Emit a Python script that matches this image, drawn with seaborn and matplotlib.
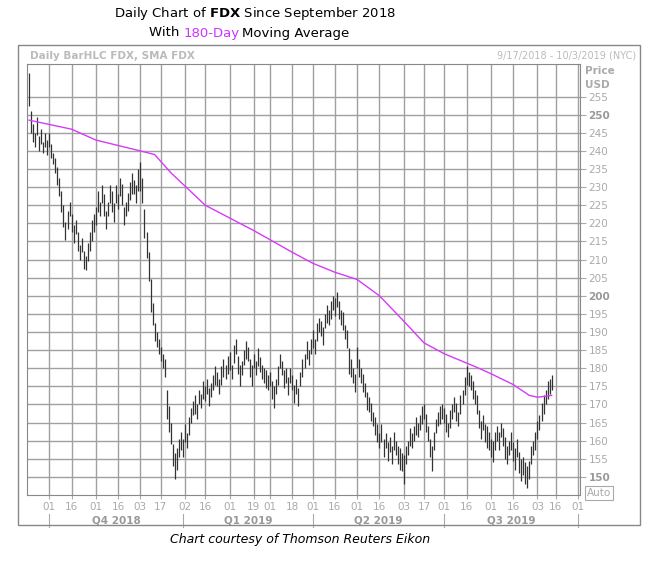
import numpy as np
import pandas as pd
import matplotlib
matplotlib.use("Agg")
import matplotlib.pyplot as plt
import seaborn as sns

closes = [257, 248, 245, 243, 247, 242, 244, 241, 243, 241,
          243, 240, 238, 236, 233, 230, 226, 222, 218, 221, 224, 220, 217, 219, 215, 212, 214, 210, 209, 212, 215, 218, 220,
          222, 226, 224, 228, 225, 221, 224, 228, 226, 223, 228, 226, 230, 228, 222, 224, 226, 229, 231, 230, 228, 232,
          233, 229, 220, 214, 208, 200, 195, 190, 188, 186, 184, 182, 180, 170, 166, 162, 156, 153, 155, 158, 160,
          158, 162, 160, 164, 167, 169, 170, 168, 172, 171, 174, 173, 175, 172, 174, 176, 178, 177, 175, 178, 180, 179, 181,
          182, 179, 184, 186, 181, 178, 180, 183, 185, 184, 180, 178, 182, 180, 183, 181, 179, 178, 177, 176,
          177, 174, 172, 175, 178, 182, 180, 177, 178, 175, 178, 176, 173, 175, 172, 177, 180, 182, 185, 183, 186,
          188, 186, 190, 192, 191, 189, 193, 195, 194, 196, 198, 197, 199, 196, 194, 193, 190, 188, 182, 180, 178, 176,
          183, 180, 178, 176, 174, 171, 170, 168, 166, 164, 162, 160, 162, 158, 160, 157, 159, 156, 160, 158, 156, 155, 154,
          152, 156, 158, 161, 160, 162, 164, 163, 165, 167, 168, 165, 162, 158, 155, 160, 164, 166, 167, 168,
          167, 165, 163, 166, 168, 170, 168, 166, 170, 172, 175, 178, 177, 176, 174, 172, 170, 166, 163, 165, 162, 161, 160,
          158, 157, 160, 162, 160, 163, 161, 158, 156, 158, 160, 157, 155, 158, 154, 152, 153, 151, 150, 152, 156, 158,
          160, 163, 165, 168, 170, 172, 174, 175, 176]
ranges = [9, 6, 5, 4, 5, 4, 4, 3, 4, 4,
          4, 4, 3, 4, 5, 5, 6, 6, 5, 5, 4, 5, 5, 4, 5, 4, 4, 5, 4, 5, 5, 6, 5,
          5, 6, 4, 5, 6, 5, 4, 5, 6, 5, 5, 4, 5, 6, 5, 4, 5, 5, 6, 4, 5, 6,
          8, 7, 8, 7, 8, 9, 6, 5, 4, 4, 4, 4, 5, 8, 7, 6, 6, 7, 6, 5, 5,
          5, 5, 4, 5, 4, 4, 5, 4, 4, 4, 5, 4, 4, 5, 4, 4, 5, 4, 4, 5, 5, 4, 5,
          5, 4, 5, 4, 5, 6, 4, 4, 5, 4, 5, 6, 4, 4, 5, 4, 4, 4, 5, 4,
          4, 5, 6, 4, 5, 4, 4, 5, 4, 5, 4, 4, 5, 4, 5, 4, 5, 4, 5, 4, 4,
          5, 4, 5, 4, 4, 5, 4, 5, 4, 5, 4, 5, 4, 5, 4, 5, 4, 5, 7, 5, 4, 5,
          6, 5, 4, 5, 4, 5, 4, 5, 4, 5, 5, 4, 5, 5, 4, 5, 4, 5, 5, 4, 5, 6, 5,
          8, 5, 4, 5, 4, 4, 5, 4, 4, 5, 4, 5, 4, 5, 7, 5, 4, 4, 5, 4,
          4, 5, 4, 5, 4, 4, 5, 4, 5, 4, 5, 5, 4, 4, 5, 4, 5, 5, 5, 4, 5, 6, 5,
          5, 6, 5, 4, 5, 4, 5, 6, 5, 4, 5, 5, 6, 5, 6, 6, 5, 6, 6, 5, 5, 4,
          5, 5, 4, 5, 5, 4, 5, 4, 4]
sma_dates = ["2018-09-17", "2018-10-16", "2018-11-01", "2018-12-03", "2018-12-12", "2018-12-24",
             "2019-01-16", "2019-02-19", "2019-03-18", "2019-04-01", "2019-04-16", "2019-05-01",
             "2019-05-16", "2019-06-03", "2019-06-17", "2019-07-01", "2019-07-22", "2019-08-01",
             "2019-08-16", "2019-08-28", "2019-09-03", "2019-09-12"]
sma_values = [248.5, 246, 243, 240, 239, 234, 225, 218, 212, 209, 206.5, 204.5,
              200, 193, 187, 184, 180.5, 178.5, 175.5, 172.5, 172, 172.5]
tick_dates = ["2018-10-01", "2018-10-16", "2018-11-01", "2018-11-16", "2018-12-03", "2018-12-17",
              "2019-01-02", "2019-01-16", "2019-02-01", "2019-02-19", "2019-03-01", "2019-03-18",
              "2019-04-01", "2019-04-16", "2019-05-01", "2019-05-16", "2019-06-03", "2019-06-17",
              "2019-07-01", "2019-07-16", "2019-08-01", "2019-08-16", "2019-09-03", "2019-09-16",
              "2019-10-01"]
tick_labels = ["01", "16", "01", "16", "03", "17", "02", "16", "01", "19", "01", "18", "01",
               "16", "01", "16", "03", "17", "01", "16", "01", "16", "03", "16", "01"]
quarters = ["Q4 2018", "Q1 2019", "Q2 2019", "Q3 2019"]
y_ticks = list(range(150, 260, 5))

bdays = pd.bdate_range("2018-09-17", "2019-10-31")
def pos(d):
    return int(bdays.searchsorted(pd.Timestamp(d)))

n = len(closes)
x = np.arange(n)
c = np.array(closes, float)
r = np.array(ranges[:n] + [5] * max(0, n - len(ranges)), float)
hi = c + r * 0.5
lo = c - r * 0.5

fig = plt.figure(figsize=(6.51, 5.64), dpi=100)
ax = fig.add_axes([27 / 651, 1 - 495 / 564, (580 - 27) / 651, (495 - 64) / 564])
tpos = [pos(d) for d in tick_dates]
ax.set_xlim(-1, tpos[-1] + 1)
ax.set_ylim(145, 264)
for t in tpos:
    ax.axvline(t, color="#a0a0a0", lw=1, zorder=0)
for yv in y_ticks:
    ax.axhline(yv, color="#a0a0a0", lw=1, zorder=0)
ax.vlines(x, lo, hi, color="#333333", lw=0.9)
sma_df = pd.DataFrame({"x": [pos(d) for d in sma_dates], "sma": sma_values})
sns.lineplot(data=sma_df, x="x", y="sma", color="#d63af9", lw=1, ax=ax)
ax.set_xlabel(""); ax.set_ylabel("")
ax.yaxis.tick_right()
ax.set_yticks(y_ticks)
ax.set_yticklabels([str(v) for v in y_ticks], fontsize=7.5, color="#aaaaaa")
for lab in ax.get_yticklabels():
    if lab.get_text() in ("150", "200", "250"):
        lab.set_fontweight("bold"); lab.set_color("#999999")
ax.tick_params(axis="y", length=4, color="#aaaaaa", pad=2)
ax.set_xticks(tpos)
ax.set_xticklabels(tick_labels, fontsize=7.5, color="#aaaaaa")
ax.tick_params(axis="x", length=3, color="#aaaaaa", pad=2)
for s in ax.spines.values():
    s.set_color("#888888")
qb = [pos("2018-10-01"), pos("2019-01-01"), pos("2019-04-01"), pos("2019-07-01"), pos("2019-10-01")]
for i, q in enumerate(quarters):
    ax.text((qb[i] + qb[i + 1]) / 2, -0.06, q, transform=ax.get_xaxis_transform(),
            ha="center", va="center", fontsize=7.5, color="#999999", fontweight="bold")
for b in qb:
    ax.plot([b, b], [-0.045, -0.075], transform=ax.get_xaxis_transform(), color="#aaaaaa", lw=0.8, clip_on=False)
fig.patches.append(plt.Rectangle((18 / 651, 1 - 525 / 564), 622 / 651, 480 / 564, transform=fig.transFigure,
                                 fill=False, ec="#888888", lw=1))
fig.text(30 / 651, 1 - 56 / 564, "Daily BarHLC FDX, SMA FDX", fontsize=7.5, color="#bbbbbb", va="center", fontweight="bold")
fig.text(636 / 651, 1 - 56 / 564, "9/17/2018 - 10/3/2019 (NYC)", fontsize=7, color="#bbbbbb", va="center", ha="right")
fig.text(585 / 651, 1 - 71 / 564, "Price", fontsize=7.5, color="#aaaaaa", va="center", fontweight="bold")
fig.text(585 / 651, 1 - 85 / 564, "USD", fontsize=7.5, color="#aaaaaa", va="center", fontweight="bold")
fig.text(587 / 651, 1 - 493 / 564, "Auto", fontsize=7.5, color="#aaaaaa", va="center",
         bbox=dict(boxstyle="square,pad=0.15", fc="white", ec="#aaaaaa", lw=0.8))
fig.text(255 / 651, 1 - 14 / 564, "Daily Chart of $\\bf{FDX}$ Since September 2018", ha="center", va="center", fontsize=9.5)
fig.text(184 / 651, 1 - 33 / 564, "With ", ha="right", va="center", fontsize=9.5)
fig.text(184 / 651, 1 - 33 / 564, "180-Day", ha="left", va="center", fontsize=9.5, color="#cc33ff")
fig.text(242 / 651, 1 - 33 / 564, "Moving Average", ha="left", va="center", fontsize=9.5)
fig.text(300 / 651, 1 - 540 / 564, "Chart courtesy of Thomson Reuters Eikon", ha="center", va="center",
         fontsize=9, style="italic")
fig.savefig("out.png", dpi=100)
